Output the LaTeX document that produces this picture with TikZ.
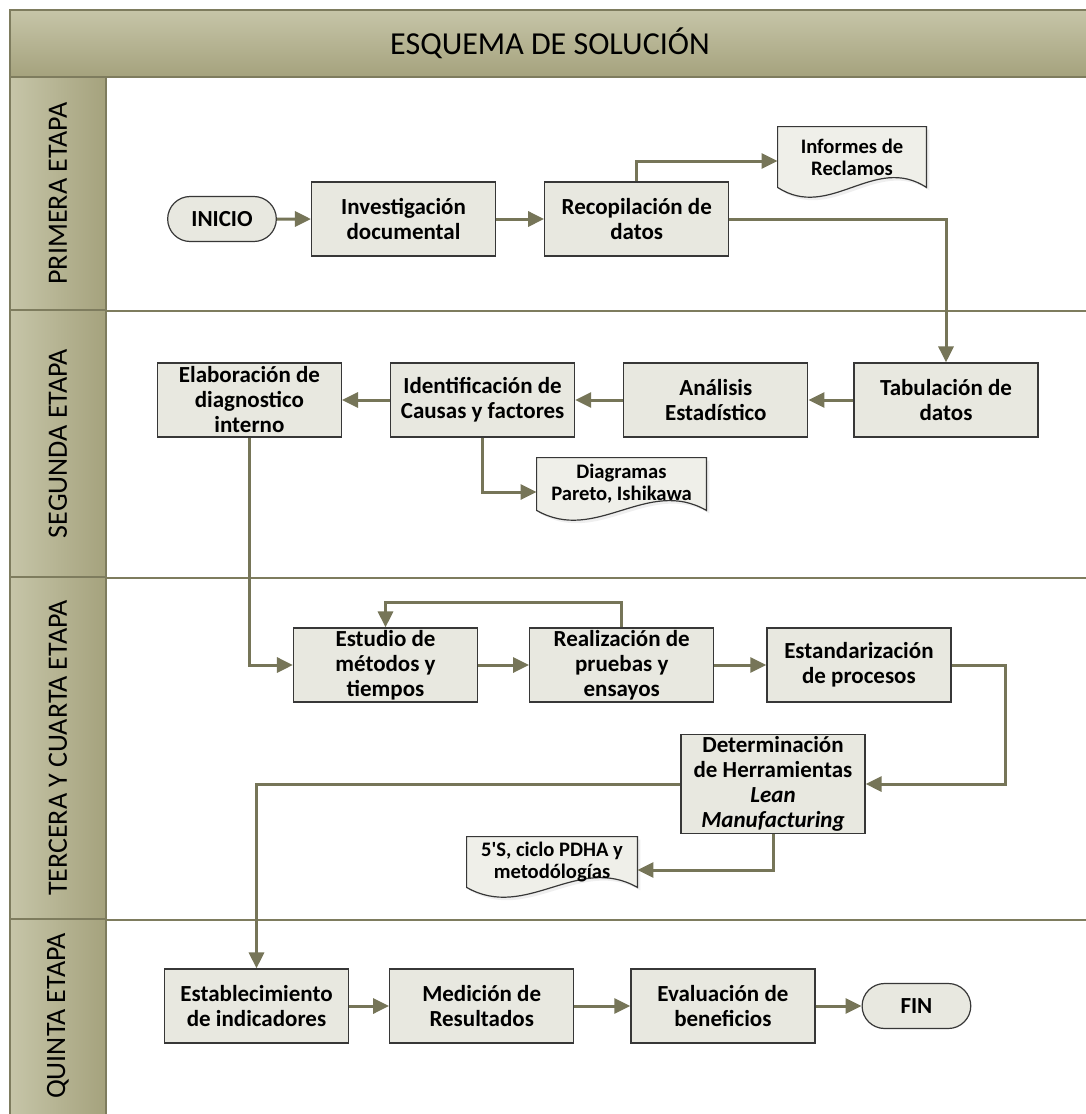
\documentclass[tikz,border=0pt]{standalone}
\usepackage{fontspec}
\setmainfont{Carlito}
\usetikzlibrary{positioning,shapes.misc,arrows.meta,calc,backgrounds,shadows}
\definecolor{oliva}{RGB}{126,124,94}
\definecolor{olivaclaro}{RGB}{198,197,168}
\definecolor{olivaoscuro}{RGB}{165,162,125}
\definecolor{flecha}{RGB}{118,117,88}
\definecolor{caja}{RGB}{232,232,224}
\definecolor{borde}{RGB}{55,55,55}
\tikzstyle{Encabezado}=[rectangle, draw=oliva, line width=1.2pt, top color=olivaclaro, bottom color=olivaoscuro, minimum width=540pt, minimum height=33.5pt, font=\fontsize{16}{19}\selectfont]
\tikzstyle{Carril}=[rectangle, draw=oliva, line width=1.2pt, left color=olivaclaro, right color=olivaoscuro, minimum width=48pt, inner sep=0pt]
\tikzstyle{CarrilTexto}=[rotate=90, font=\fontsize{14}{16}\selectfont]
\tikzstyle{Separador}=[draw=oliva, line width=1pt]
\tikzstyle{Proceso}=[rectangle, draw=borde, line width=0.6pt, fill=caja, minimum width=92pt, minimum height=37pt, inner sep=1pt, align=center, font=\fontsize{11.5}{12.5}\selectfont\bfseries]
\tikzstyle{Terminal}=[rounded rectangle, draw=borde, line width=0.6pt, fill=caja, minimum width=61pt, minimum height=22.5pt, font=\fontsize{11.5}{12.5}\selectfont\bfseries]
\tikzstyle{Documento}=[rectangle, inner sep=1pt, align=center, font=\fontsize{10.3}{11}\selectfont\bfseries]
\tikzstyle{Hoja}=[draw=borde, line width=0.6pt, fill=caja!70!white, drop shadow={opacity=0.12, shadow xshift=1.5pt, shadow yshift=-1.5pt}]
\tikzstyle{Flecha}=[draw=flecha, line width=1.5pt, -{Triangle[length=8pt,width=7.5pt]}]

\newcommand{\hoja}[1]{%
	\begin{pgfonlayer}{background}
		\path[Hoja] (#1.south west) -- (#1.north west) -- (#1.north east) -- (#1.south east)
			.. controls ($(#1.south east)!0.35!(#1.south west)+(0,-34)$) and ($(#1.south east)!0.65!(#1.south west)+(0,34)$) .. (#1.south west) -- cycle;
	\end{pgfonlayer}}

\begin{document}
\begin{tikzpicture}[x=0.5pt, y=-0.5pt]
			\useasboundingbox (0,0) rectangle (1086,1114);
			\begin{pgfonlayer}{background}
				\fill[white] (0,0) rectangle (1086,1114);
			\end{pgfonlayer}
			\clip (0,0) rectangle (1086,1114);

			%Carriles
			\node[Encabezado]	(titulo)	at (550,43.5)	{ESQUEMA DE SOLUCIÓN};
			\node[Carril, minimum height=116.5pt]	(c1)	at (58,193.5)	{};
			\node[Carril, minimum height=133.5pt]	(c2)	at (58,443.5)	{};
			\node[Carril, minimum height=171pt]		(c3)	at (58,748)		{};
			\node[Carril, minimum height=100pt]		(c4)	at (58,1019)	{};
			\node[CarrilTexto]	(t1)	at (c1)			{PRIMERA ETAPA};
			\node[CarrilTexto]	(t2)	at (c2)			{SEGUNDA ETAPA};
			\node[CarrilTexto]	(t3)	at (c3)			{TERCERA Y CUARTA ETAPA};
			\node[CarrilTexto]	(t4)	at (58,1016)	{QUINTA ETAPA};
			\draw[Separador] (c1.south east) -- ++(1000,0);
			\draw[Separador] (c2.south east) -- ++(1000,0);
			\draw[Separador] (c3.south east) -- ++(1000,0);

			%Nodos
			\node[Terminal]		(inicio)		at (222,219)					{INICIO};
			\node[Proceso]		(inv_doc)		[right=17pt of inicio]			{Investigación\\documental};
			\node[Proceso]		(recop)			[right=24pt of inv_doc]			{Recopilación de\\datos};
			\node[Documento, minimum width=74pt, minimum height=30pt]	(informes)	at (852,157)	{Informes de\\Reclamos};

			\node[Proceso]		(tabul)			at (946,400)					{Tabulación de\\datos};
			\node[Proceso]		(analisis)		[left=22.5pt of tabul]			{Análisis\\Estadístico};
			\node[Proceso]		(identif)		[left=24pt of analisis]			{Identificación de\\Causas y factores};
			\node[Proceso]		(elab)			[left=24pt of identif]			{Elaboración de\\diagnostico\\interno};
			\node[Documento, minimum width=84.5pt, minimum height=26pt]	(diagramas)	at (621.5,484)	{Diagramas\\Pareto, Ishikawa};

			\node[Proceso]		(estudio)		at (385.5,665)					{Estudio de\\métodos y\\tiempos};
			\node[Proceso]		(realiz)		[right=25.5pt of estudio]		{Realización de\\pruebas y\\ensayos};
			\node[Proceso]		(estand)		[right=26pt of realiz]			{Estandarización\\de procesos};
			\node[Proceso, minimum height=48pt]	(determ)	at (773,784)	{Determinación\\de Herramientas\\\textit{Lean}\\\textit{Manufacturing}};
			\node[Documento, minimum width=85pt, minimum height=25pt]	(cinco)	at (552,862)	{5\textquotesingle S, ciclo PDHA y\\metodólogías};

			\node[Proceso]		(estab)			at (256.5,1006)					{Establecimiento\\de indicadores};
			\node[Proceso]		(medicion)		[right=20pt of estab]			{Medición de\\Resultados};
			\node[Proceso]		(evaluacion)	[right=28pt of medicion]		{Evaluación de\\beneficios};
			\node[Terminal]		(fin)			[right=23pt of evaluacion]		{FIN};

			\hoja{informes}
			\hoja{diagramas}
			\hoja{cinco}

			%Flechas
			\draw[Flecha] (inicio) -- (inv_doc);
			\draw[Flecha] (inv_doc) -- (recop);
			\draw[Flecha] (recop.north) |- ([yshift=-2pt]informes.west);
			\draw[Flecha] (recop.east) -| (tabul.north);
			\draw[Flecha] (tabul) -- (analisis);
			\draw[Flecha] (analisis) -- (identif);
			\draw[Flecha] (identif) -- (elab);
			\draw[Flecha] (identif.south) |- ([yshift=-4pt]diagramas.west);
			\draw[Flecha] (elab.south) |- (estudio.west);
			\draw[Flecha] (estudio) -- (realiz);
			\draw[Flecha] (realiz.north) -- ++(0,-25) -| (estudio.north);
			\draw[Flecha] (realiz) -- (estand);
			\draw[Flecha] (estand.east) -- ++(54,0) |- (determ.east);
			\draw[Flecha] (determ.south) |- ([yshift=-4pt]cinco.east);
			\draw[Flecha] (determ.west) -| (estab.north);
			\draw[Flecha] (estab) -- (medicion);
			\draw[Flecha] (medicion) -- (evaluacion);
			\draw[Flecha] (evaluacion) -- (fin);

		\end{tikzpicture}
\end{document}
